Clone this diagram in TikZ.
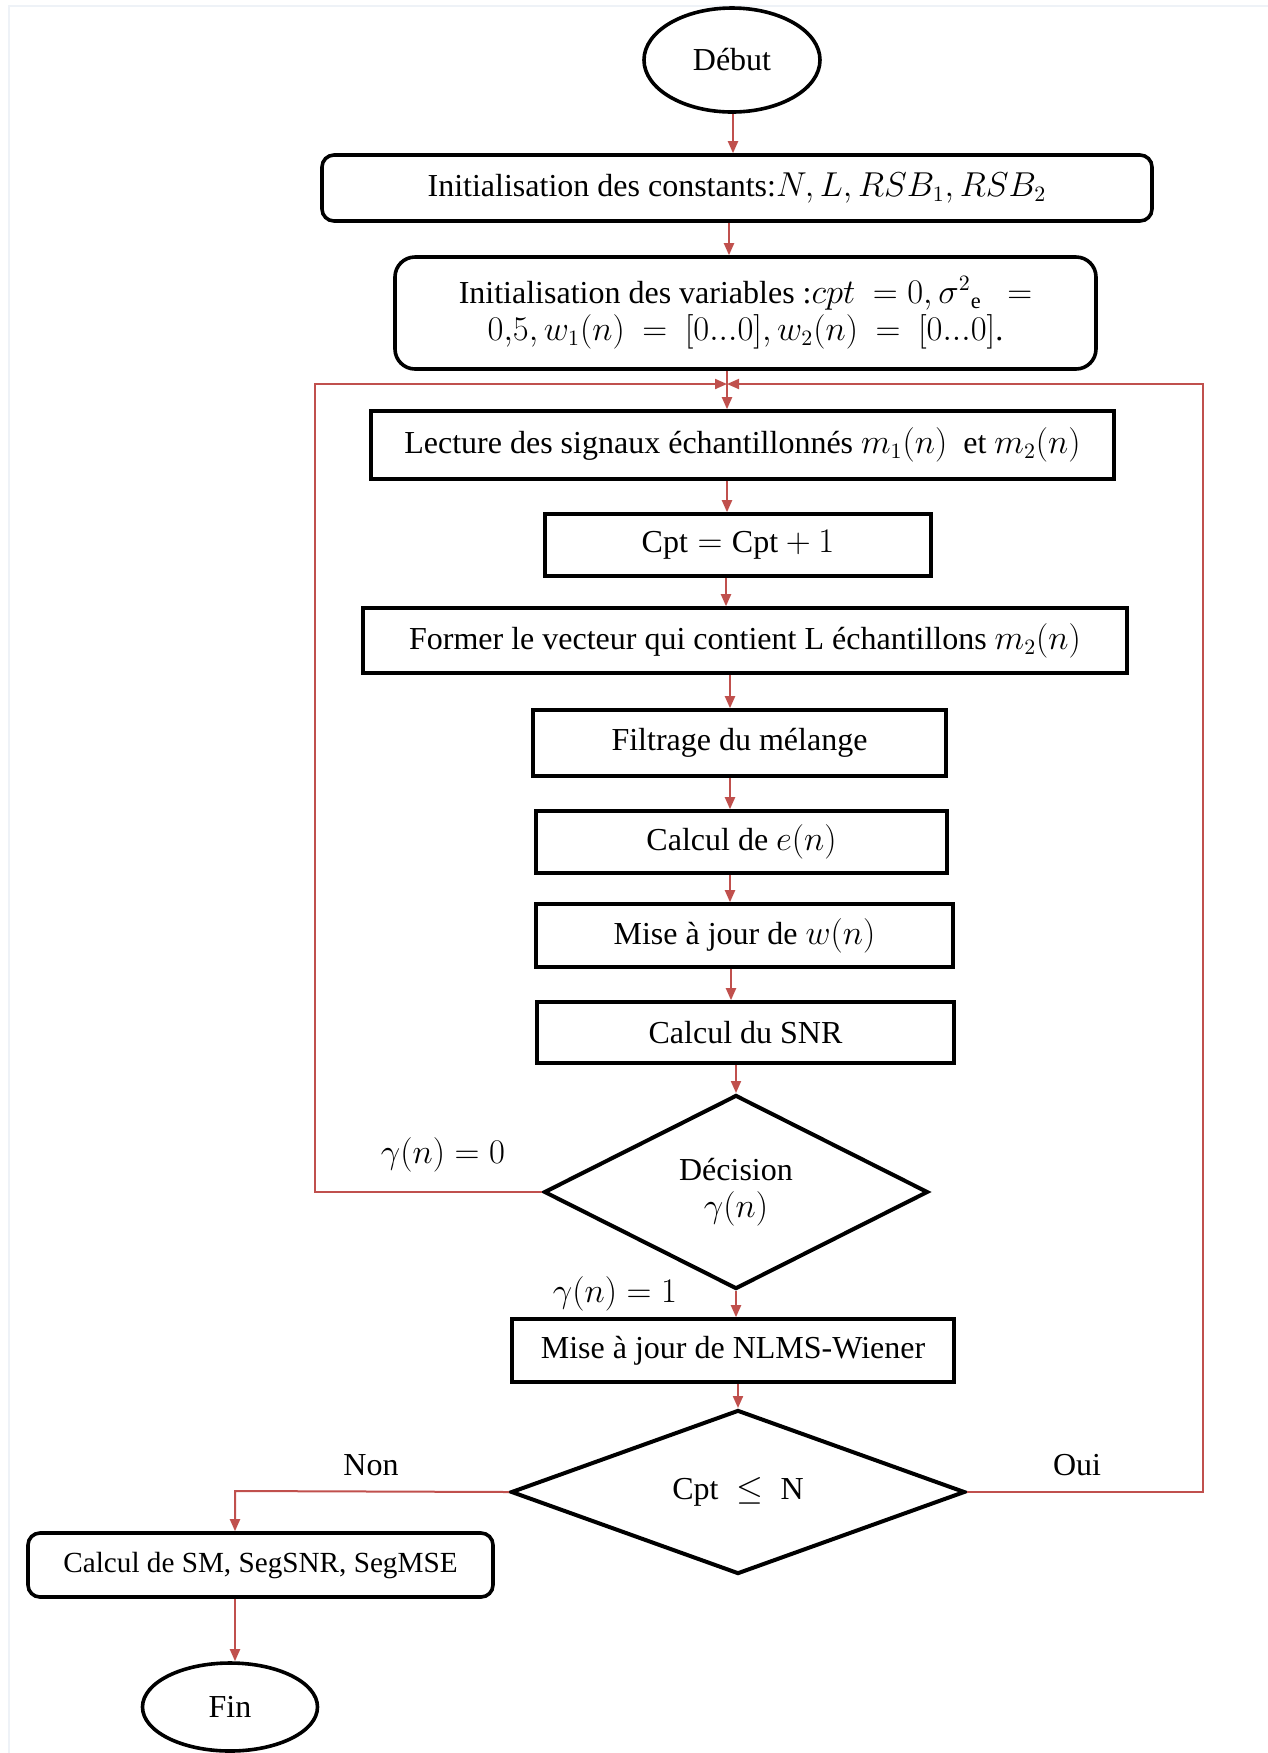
\documentclass[tikz,border=0pt]{standalone}
\usepackage{fontspec}
\setmainfont{Liberation Serif}
\usetikzlibrary{shapes.geometric,arrows.meta}
\definecolor{conn}{HTML}{C0504D}
\definecolor{pageline}{HTML}{EEF2F7}
\begin{document}
\begin{tikzpicture}[x=0.5pt,y=-0.5pt,
  font=\fontsize{16}{18.5}\selectfont,
  box/.style={draw, line width=1.8pt, inner sep=2pt, align=center},
  rbox/.style={box, rounded corners=6pt},
  term/.style={draw, ellipse, line width=1.8pt, inner sep=0pt},
  dec/.style={draw, diamond, line width=2pt, inner sep=0pt, aspect=2, align=center},
  arr/.style={draw=conn, line width=1pt, -{Triangle[length=6pt,width=5pt]}},
  lab/.style={inner sep=0pt}]
\useasboundingbox (0,0) rectangle (1268,1753);
\draw[pageline, line width=1pt] (9,1753) -- (9,6) -- (1268,6);

\node[term, minimum width=88pt, minimum height=52pt] (start) at (732,60) {Début};
\node[rbox, minimum width=415pt, minimum height=33pt] (b1) at (737,188)
  {Initialisation des constants:$N,L,RSB_1,RSB_2$};
\node[rbox, rounded corners=10pt, minimum width=350.5pt, minimum height=56pt] (b2) at (745.5,313)
  {Initialisation des variables :$cpt\ =0, {\sigma^2}_{\mathrm{e}}\ \ =$\\
   $0{,}5, w_1(n)\ =\ [0{.}{.}{.}0], w_2(n)\ =\ [0{.}{.}{.}0]$.};
\node[box, minimum width=371.5pt, minimum height=34pt] (b3) at (742.5,445)
  {Lecture des signaux échantillonnés $m_1(n)$\ \ et $m_2(n)$};
\node[box, minimum width=193pt, minimum height=31pt] (b4) at (738,545)
  {$\mathrm{Cpt} = \mathrm{Cpt} + 1$};
\node[box, minimum width=382pt, minimum height=32.5pt] (b5) at (745,640.5)
  {Former le vecteur qui contient L échantillons $m_2(n)$};
\node[box, minimum width=206.5pt, minimum height=33pt] (b6) at (739.5,743)
  {Filtrage du mélange};
\node[box, minimum width=205.5pt, minimum height=31pt] (b7) at (741.5,842)
  {Calcul de $e(n)$};
\node[box, minimum width=208.5pt, minimum height=31.5pt] (b8) at (744.5,935.5)
  {Mise à jour de $w(n)$};
\node[box, minimum width=208.5pt, minimum height=30.5pt] (b9) at (745.5,1032.5)
  {Calcul du SNR};
\node[dec, minimum width=192pt, minimum height=97pt] (d1) at (736,1192)
  {Décision\\$\gamma(n)$};
\node[box, minimum width=221pt, minimum height=31.5pt] (b10) at (733,1350.5)
  {Mise à jour de NLMS-Wiener};
\node[dec, minimum width=227pt, minimum height=82pt] (d2) at (738,1492)
  {$\mathrm{Cpt}\ \leq\ \mathrm{N}$};
\node[rbox, minimum width=232.5pt, minimum height=32pt, font=\fontsize{14.6}{17}\selectfont] (b11) at (260.5,1565)
  {Calcul de SM, SegSNR, SegMSE};
\node[term, minimum width=87.5pt, minimum height=44pt] (fin) at (230,1707) {Fin};

\coordinate (j) at (727,384);
\coordinate (L) at (315,384);
\coordinate (R) at (1203,384);
\coordinate (nx) at (235,1491);
\coordinate (xa) at (733,0);
\coordinate (xb) at (729,0);
\coordinate (xc) at (726,0);
\coordinate (xd) at (730,0);
\coordinate (xe) at (731,0);

\draw[arr] (start.south -| xa) -- (xa |- b1.north);
\draw[arr] (b1.south -| xb) -- (xb |- b2.north);
\draw[arr] (b2.south -| j) -- (j |- b3.north);
\draw[arr] (b3.south -| j) -- (j |- b4.north);
\draw[arr] (b4.south -| xc) -- (xc |- b5.north);
\draw[arr] (b5.south -| xd) -- (xd |- b6.north);
\draw[arr] (b6.south -| xd) -- (xd |- b7.north);
\draw[arr] (b7.south -| xd) -- (xd |- b8.north);
\draw[arr] (b8.south -| xe) -- (xe |- b9.north);
\draw[arr] (b9.south -| d1.north) -- (d1.north);
\draw[arr] (d1.south) -- (d1.south |- b10.north);
\draw[arr] (b10.south -| d2.north) -- (d2.north);
\draw[arr] (d1.west) -| (L) -- (j);
\draw[arr] (d2.east) -| (R) -- (j);
\draw[arr] (d2.west) -- (nx) -- (nx |- b11.north);
\draw[arr] (b11.south -| nx) -- (nx |- fin.north);

\node[lab] (l0) at (443,1155) {$\gamma(n) = 0$};
\node[lab] (l1) at (615,1294) {$\gamma(n) = 1$};
\node[lab] (lnon) at (371,1465) {Non};
\node[lab] (loui) at (1077,1465) {Oui};
\end{tikzpicture}
\end{document}
